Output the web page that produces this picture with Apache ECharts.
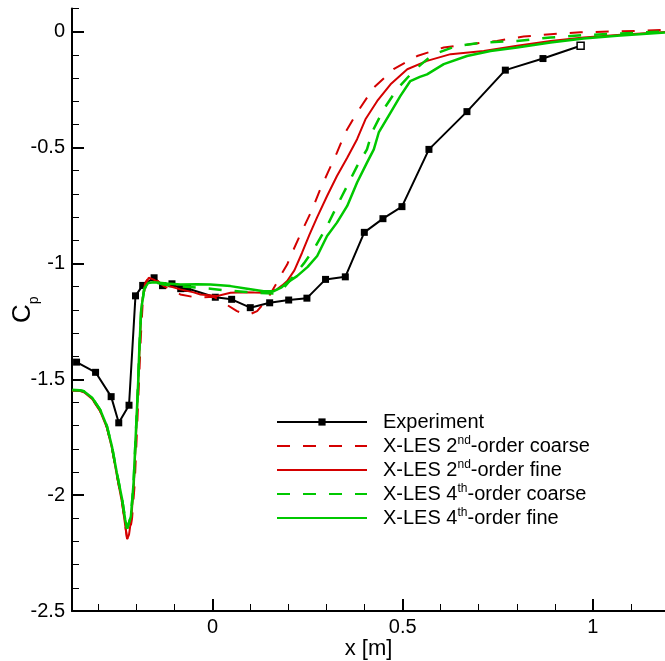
<!DOCTYPE html>
<html>
<head>
<meta charset="utf-8">
<script src="https://cdn.jsdelivr.net/npm/echarts@6/dist/echarts.min.js"></script>
<style>
html,body{margin:0;padding:0;background:#fff;}
#chart{width:665px;height:661px;}
</style>
</head>
<body>
<div id="chart"></div>
<script>
// ---- Data ----
const seriesNames = ['Experiment', 'X-LES 2nd-order coarse', 'X-LES 2nd-order fine', 'X-LES 4th-order coarse', 'X-LES 4th-order fine'];

const expX  = [-0.358,-0.308,-0.267,-0.247,-0.220,-0.203,-0.184,-0.154,-0.132,-0.107,-0.084,-0.066,0.007,0.050,0.099,0.150,0.200,0.248,0.297,0.349,0.399,0.448,0.498,0.569,0.669,0.770,0.869,0.968];
const expCp = [-1.426,-1.470,-1.575,-1.688,-1.612,-1.140,-1.095,-1.062,-1.096,-1.088,-1.109,-1.108,-1.146,-1.155,-1.191,-1.170,-1.158,-1.150,-1.069,-1.058,-0.866,-0.807,-0.755,-0.508,-0.345,-0.166,-0.116,-0.061];

const c2X  = [-0.369,-0.350,-0.339,-0.317,-0.296,-0.278,-0.265,-0.252,-0.238,-0.230,-0.225,-0.219,-0.212,-0.205,-0.199,-0.193,-0.189,-0.184,-0.176,-0.164,-0.150,-0.129,-0.100,-0.085,-0.041,0.003,0.029,0.064,0.086,0.100,0.117,0.143,0.169,0.178,0.196,0.209,0.235,0.262,0.283,0.305,0.327,0.349,0.380,0.424,0.476,0.538,0.608,0.678,0.748,0.818,0.889,0.968,1.047,1.126,1.19];
const c2Cp = [-1.548,-1.550,-1.555,-1.585,-1.637,-1.710,-1.797,-1.915,-2.035,-2.130,-2.188,-2.170,-2.100,-1.950,-1.720,-1.480,-1.320,-1.170,-1.080,-1.052,-1.068,-1.098,-1.120,-1.134,-1.148,-1.144,-1.170,-1.206,-1.220,-1.218,-1.206,-1.156,-1.083,-1.055,-1.005,-0.954,-0.860,-0.767,-0.680,-0.601,-0.522,-0.435,-0.349,-0.241,-0.162,-0.105,-0.068,-0.054,-0.040,-0.021,-0.011,-0.003,0.001,0.004,0.008];

const f2X  = [-0.369,-0.350,-0.339,-0.317,-0.296,-0.278,-0.265,-0.252,-0.238,-0.230,-0.225,-0.220,-0.214,-0.207,-0.201,-0.195,-0.191,-0.186,-0.178,-0.168,-0.155,-0.138,-0.110,-0.085,-0.050,-0.032,0.012,0.047,0.082,0.110,0.134,0.155,0.169,0.183,0.196,0.215,0.235,0.255,0.275,0.301,0.327,0.354,0.380,0.402,0.433,0.468,0.512,0.564,0.626,0.713,0.801,0.889,0.976,1.064,1.19];
const f2Cp = [-1.548,-1.550,-1.555,-1.585,-1.637,-1.710,-1.797,-1.915,-2.035,-2.130,-2.190,-2.170,-2.100,-1.950,-1.720,-1.480,-1.320,-1.170,-1.090,-1.062,-1.070,-1.086,-1.100,-1.112,-1.125,-1.134,-1.141,-1.127,-1.124,-1.126,-1.127,-1.120,-1.112,-1.095,-1.076,-1.030,-0.955,-0.875,-0.800,-0.709,-0.623,-0.544,-0.464,-0.378,-0.299,-0.227,-0.162,-0.126,-0.097,-0.083,-0.061,-0.040,-0.025,-0.014,-0.001];

const c4X  = [-0.369,-0.350,-0.339,-0.317,-0.296,-0.278,-0.265,-0.252,-0.238,-0.230,-0.225,-0.221,-0.215,-0.208,-0.202,-0.196,-0.193,-0.188,-0.180,-0.170,-0.155,-0.129,-0.090,-0.041,0.000,0.038,0.080,0.117,0.161,0.185,0.213,0.240,0.266,0.301,0.327,0.354,0.380,0.406,0.419,0.450,0.485,0.529,0.560,0.582,0.643,0.713,0.801,0.889,0.976,1.19];
const c4Cp = [-1.546,-1.547,-1.552,-1.580,-1.631,-1.703,-1.789,-1.904,-2.019,-2.106,-2.145,-2.140,-2.092,-1.947,-1.731,-1.515,-1.372,-1.200,-1.110,-1.085,-1.080,-1.091,-1.098,-1.105,-1.110,-1.117,-1.122,-1.127,-1.130,-1.110,-1.055,-1.000,-0.940,-0.839,-0.752,-0.665,-0.580,-0.508,-0.435,-0.335,-0.248,-0.169,-0.125,-0.097,-0.061,-0.047,-0.040,-0.025,-0.015,0.001];

const f4X  = [-0.369,-0.350,-0.339,-0.317,-0.296,-0.278,-0.265,-0.252,-0.238,-0.230,-0.225,-0.221,-0.215,-0.208,-0.202,-0.196,-0.193,-0.188,-0.180,-0.170,-0.155,-0.120,-0.085,-0.040,-0.006,0.047,0.091,0.134,0.161,0.180,0.196,0.222,0.250,0.275,0.301,0.327,0.354,0.380,0.406,0.424,0.437,0.468,0.494,0.520,0.545,0.564,0.608,0.669,0.731,0.801,0.889,0.976,1.064,1.19];
const f4Cp = [-1.546,-1.547,-1.552,-1.580,-1.631,-1.703,-1.789,-1.904,-2.019,-2.106,-2.145,-2.140,-2.092,-1.947,-1.731,-1.515,-1.372,-1.200,-1.110,-1.085,-1.081,-1.087,-1.091,-1.090,-1.091,-1.098,-1.109,-1.120,-1.120,-1.105,-1.083,-1.055,-1.015,-0.968,-0.882,-0.824,-0.752,-0.651,-0.565,-0.508,-0.435,-0.349,-0.277,-0.213,-0.195,-0.184,-0.140,-0.105,-0.083,-0.068,-0.047,-0.029,-0.018,-0.004];

const xMajorTicks = [0, 0.5, 1];
const xMinorTicks = [-0.3,-0.2,-0.1,0.1,0.2,0.3,0.4,0.6,0.7,0.8,0.9,1.1];
const yMajorTicks = [-2.5,-2,-1.5,-1,-0.5,0];
const yMinorTicks = [-2.4,-2.3,-2.2,-2.1,-1.9,-1.8,-1.7,-1.6,-1.4,-1.3,-1.2,-1.1,-0.9,-0.8,-0.7,-0.6,-0.4,-0.3,-0.2,-0.1,0.1];

// ---- Chart ----
const RED = '#d40000';
const GREEN = '#00c800';
const FONT = '"Liberation Sans", Arial, Helvetica, sans-serif';
const zip = (xs, ys) => xs.map((x, i) => [x, ys[i]]);

const expData = zip(expX, expCp).map((p, i, arr) => i === arr.length - 1
  ? { value: p, itemStyle: { color: '#fff', borderColor: '#000', borderWidth: 1.5 } }
  : p);

function legendFmt(name) {
  const m = name.match(/^(.*?\d)(nd|th)(.*)$/);
  if (!m) return '{f|' + name + '}';
  return '{f|' + m[1] + '}{s|' + m[2] + '}{t|' + m[3] + '}';
}

const chart = echarts.init(document.getElementById('chart'), null, { renderer: 'canvas' });
chart.setOption({
  animation: false,
  backgroundColor: '#fff',
  textStyle: { fontFamily: FONT },
  grid: { left: 72, top: 8.5, width: 593, height: 602.5, containLabel: false, outerBoundsMode: 'none' },
  legend: {
    orient: 'vertical',
    left: 276,
    top: 412,
    itemWidth: 90,
    itemHeight: 9,
    itemGap: 3,
    padding: 0,
    selectedMode: false,
    data: [
      { name: seriesNames[0] },
      { name: seriesNames[1], itemStyle: { opacity: 0 } },
      { name: seriesNames[2], itemStyle: { opacity: 0 } },
      { name: seriesNames[3], itemStyle: { opacity: 0 } },
      { name: seriesNames[4], itemStyle: { opacity: 0 } }
    ],
    formatter: legendFmt,
    textStyle: {
      fontFamily: FONT, color: '#000', fontSize: 20,
      rich: {
        f: { fontFamily: FONT, fontSize: 20, color: '#000', lineHeight: 22, padding: [0, 0, 0, 11] },
        t: { fontFamily: FONT, fontSize: 20, color: '#000', lineHeight: 22 },
        s: { fontFamily: FONT, fontSize: 12, color: '#000', lineHeight: 12, verticalAlign: 'top' }
      }
    }
  },
  xAxis: [{
    type: 'value', min: -0.37, max: 1.19, position: 'bottom',
    name: 'x [m]', nameLocation: 'middle', nameGap: 27, nameMoveOverlap: false,
    nameTextStyle: { fontFamily: FONT, fontSize: 22, color: '#000' },
    axisLine: { show: true, onZero: false, lineStyle: { color: '#000', width: 2 } },
    axisTick: { show: true, inside: true, length: 12, customValues: xMajorTicks, lineStyle: { color: '#000', width: 2 } },
    axisLabel: { show: true, customValues: xMajorTicks, fontFamily: FONT, fontSize: 20, color: '#000', margin: 6 },
    splitLine: { show: false }
  }, {
    type: 'value', min: -0.37, max: 1.19, position: 'bottom',
    axisLine: { show: false, onZero: false },
    axisTick: { show: true, inside: true, length: 7, customValues: xMinorTicks, lineStyle: { color: '#000', width: 1 } },
    axisLabel: { show: false },
    splitLine: { show: false }
  }],
  yAxis: [{
    type: 'value', min: -2.5, max: 0.1, position: 'left',
    name: '{c|C}{p|p}', nameLocation: 'middle', nameRotate: 90, nameGap: 31, nameMoveOverlap: false,
    nameTextStyle: {
      fontFamily: FONT, color: '#000',
      rich: {
        c: { fontFamily: FONT, fontSize: 26, color: '#000', lineHeight: 37 },
        p: { fontFamily: FONT, fontSize: 14, color: '#000', lineHeight: 14, verticalAlign: 'bottom' }
      }
    },
    axisLine: { show: true, onZero: false, lineStyle: { color: '#000', width: 2 } },
    axisTick: { show: true, inside: true, length: 12, customValues: yMajorTicks, lineStyle: { color: '#000', width: 2 } },
    axisLabel: { show: true, customValues: yMajorTicks, fontFamily: FONT, fontSize: 20, color: '#000', margin: 7 },
    splitLine: { show: false }
  }, {
    type: 'value', min: -2.5, max: 0.1, position: 'left',
    axisLine: { show: false, onZero: false },
    axisTick: { show: true, inside: true, length: 7, customValues: yMinorTicks, lineStyle: { color: '#000', width: 1 } },
    axisLabel: { show: false },
    splitLine: { show: false }
  }],
  series: [{
    name: seriesNames[0], type: 'line', data: expData,
    symbol: 'rect', symbolSize: 7, showSymbol: true,
    itemStyle: { color: '#000' },
    lineStyle: { color: '#000', width: 2 },
    z: 2
  }, {
    name: seriesNames[1], type: 'line', data: zip(c2X, c2Cp), symbol: 'none',
    itemStyle: { color: RED },
    lineStyle: { color: RED, width: 2, type: [13, 13] },
    z: 3
  }, {
    name: seriesNames[2], type: 'line', data: zip(f2X, f2Cp), symbol: 'none',
    itemStyle: { color: RED },
    lineStyle: { color: RED, width: 2 },
    z: 4
  }, {
    name: seriesNames[3], type: 'line', data: zip(c4X, c4Cp), symbol: 'none',
    itemStyle: { color: GREEN },
    lineStyle: { color: GREEN, width: 2.5, type: [13, 13] },
    z: 5
  }, {
    name: seriesNames[4], type: 'line', data: zip(f4X, f4Cp), symbol: 'none',
    itemStyle: { color: GREEN },
    lineStyle: { color: GREEN, width: 2.5 },
    z: 6
  }]
});
</script>
</body>
</html>
